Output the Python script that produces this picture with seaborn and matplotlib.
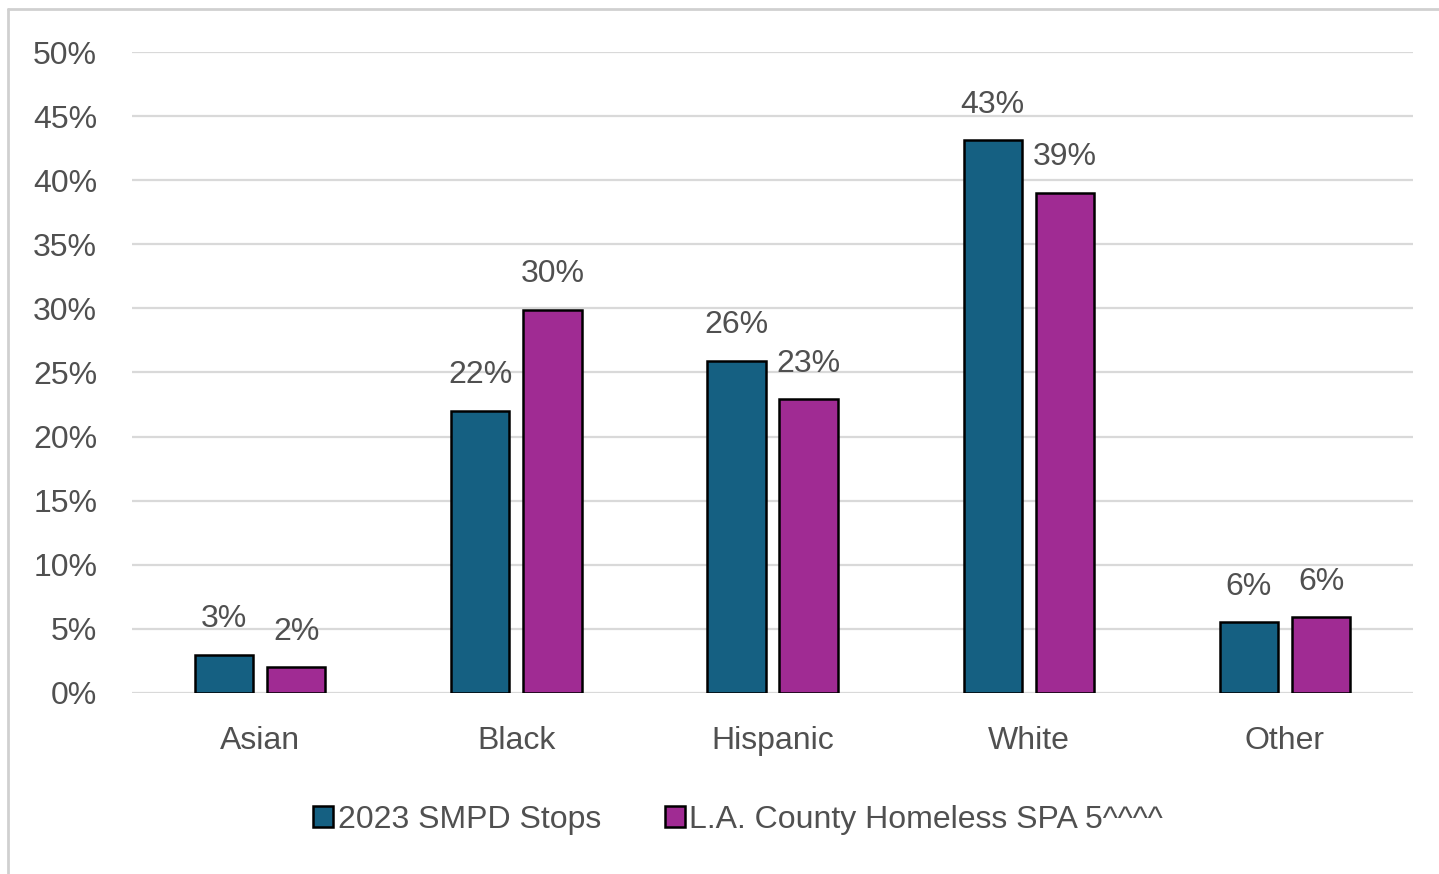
import pandas as pd
import matplotlib.pyplot as plt
import matplotlib.lines as mlines
import seaborn as sns

# Data
categories = ["Asian", "Black", "Hispanic", "White", "Other"]
smpd_stops = [0.030, 0.220, 0.259, 0.431, 0.055]
homeless_spa5 = [0.020, 0.299, 0.229, 0.390, 0.059]
series_names = ["2023 SMPD Stops", "L.A. County Homeless SPA 5^^^^"]
y_ticks = [0, 0.05, 0.10, 0.15, 0.20, 0.25, 0.30, 0.35, 0.40, 0.45, 0.50]

colors = ["#156082", "#A02B93"]
text_color = "#505050"
grid_color = "#D9D9D9"

df = pd.DataFrame({
    "group": categories * 2,
    "value": smpd_stops + homeless_spa5,
    "series": [series_names[0]] * len(categories) + [series_names[1]] * len(categories),
})

sns.set_theme(style="white")
plt.rcParams["font.family"] = ["Liberation Sans", "DejaVu Sans"]
plt.rcParams["font.size"] = 23

fig = plt.figure(figsize=(14.39, 8.74), dpi=100)
ax = fig.add_axes([0.0917, 0.2071, 0.8903, 0.7334])

sns.barplot(
    data=df, x="group", y="value", hue="series",
    palette=colors, saturation=1, width=0.5625, gap=0.19,
    edgecolor="black", linewidth=1.8, ax=ax, errorbar=None,
)

# value labels above each bar
for container in ax.containers:
    labels = [f"{b.get_height():.0%}" for b in container]
    ax.bar_label(container, labels=labels, padding=15, fontsize=23, color=text_color)

ax.set_ylim(0, 0.5)
ax.set_xlim(-0.5, 4.5)
ax.set_yticks(y_ticks)
ax.set_yticklabels([f"{t:.0%}" for t in y_ticks])
ax.set_xlabel("")
ax.set_ylabel("")
ax.yaxis.grid(True, color=grid_color, linewidth=1.6)
ax.set_axisbelow(True)
for spine in ax.spines.values():
    spine.set_visible(False)
ax.tick_params(axis="y", length=0, pad=25, labelsize=23, labelcolor=text_color)
ax.tick_params(axis="x", length=0, pad=24, labelsize=23, labelcolor=text_color)

# legend at the bottom
handles, labels = ax.get_legend_handles_labels()
ax.get_legend().remove()
fig.legend(
    handles, labels, loc="center", bbox_to_anchor=(0.513, 0.062), ncol=2,
    frameon=False, fontsize=23, labelcolor=text_color,
    handlelength=0.62, handleheight=0.62, handletextpad=0.15, columnspacing=2.0,
)

# chart-area border (top and left edges visible in the reference)
fig.add_artist(mlines.Line2D([0.0056, 1.0], [0.9897, 0.9897], color="#D0D0D0", linewidth=2, transform=fig.transFigure))
fig.add_artist(mlines.Line2D([0.0056, 0.0056], [0.0, 0.9897], color="#D0D0D0", linewidth=2, transform=fig.transFigure))

fig.savefig("out.png", dpi=100)
